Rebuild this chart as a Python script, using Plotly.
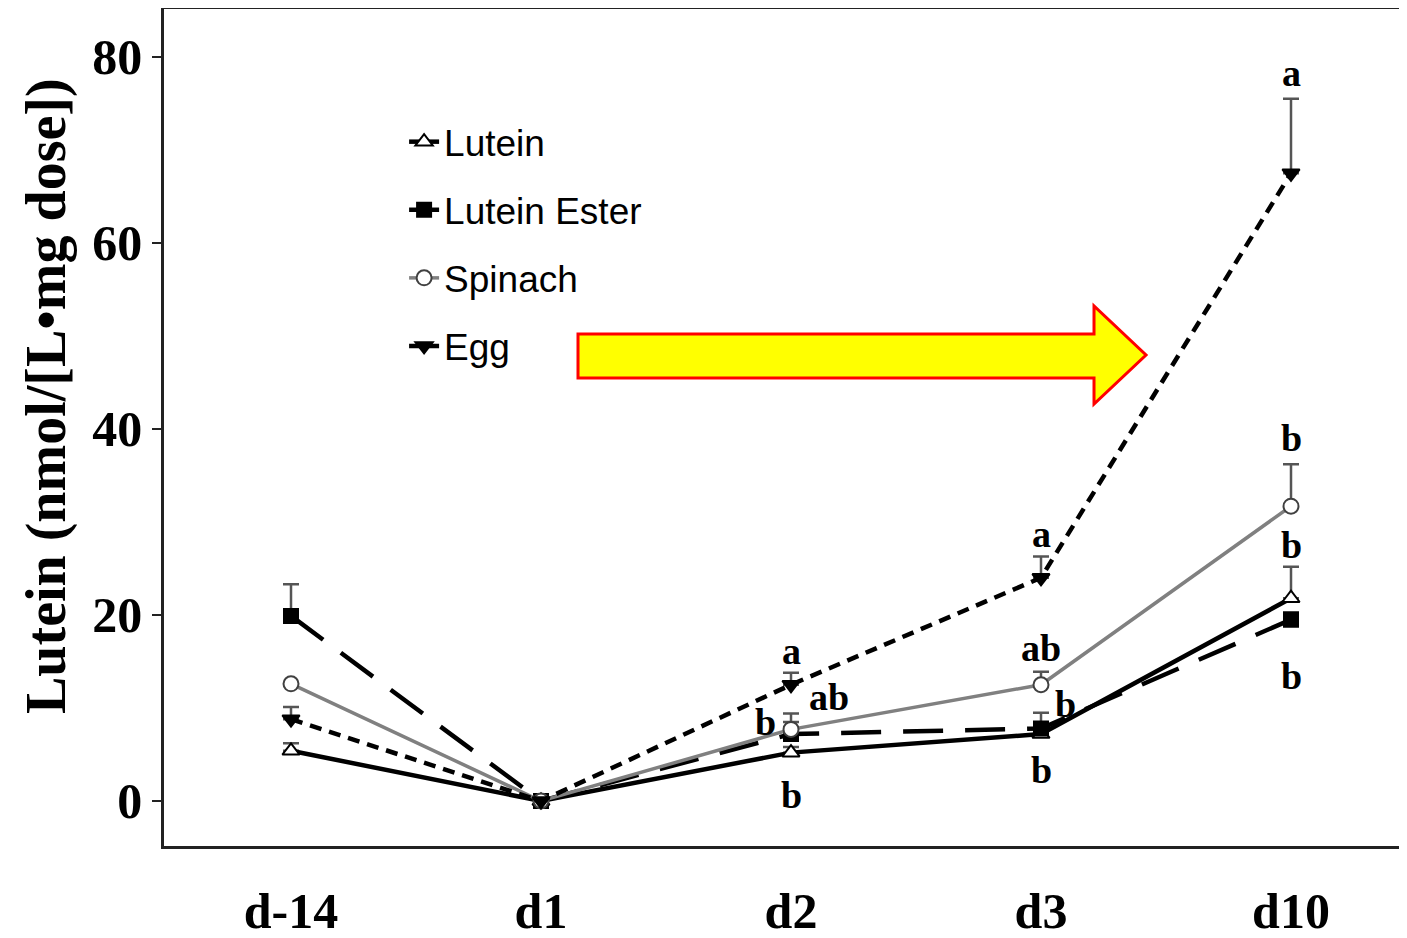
import plotly.graph_objects as go

days = ["d-14", "d1", "d2", "d3", "d10"]

lutein = [5.4, 0.0, 5.2, 7.2, 21.8]
lutein_err = [0.8, 0.0, 0.6, 0.6, 3.4]
ester = [19.9, 0.0, 7.2, 7.8, 19.5]
ester_err = [3.4, 0.0, 2.2, 1.7, 0.8]
spinach = [12.6, 0.0, 7.7, 12.5, 31.7]
spinach_err = [0.0, 0.0, 0.8, 1.4, 4.5]
egg = [8.8, 0.0, 12.5, 24.0, 67.5]
egg_err = [1.3, 0.0, 1.3, 2.3, 8.0]

SERIF = "Liberation Serif, Times New Roman, serif"
SANS = "Liberation Sans, Arial, sans-serif"

fig = go.Figure()

def add(name, y, err, color, dash, width, symbol, msize, mfill, mline, group):
    fig.add_trace(go.Scatter(
        x=days, y=y, name=name, mode="lines+markers",
        legendgroup=group,
        line=dict(color=color, dash=dash, width=width),
        marker=dict(symbol=symbol, size=msize, color=mfill,
                    line=dict(color=mline, width=2)),
        error_y=dict(type="data", array=err, arrayminus=[0] * len(err),
                     symmetric=False, color="#555555", thickness=2.5, width=8),
    ))

add("Lutein", lutein, lutein_err, "black", "solid", 4.5, "triangle-up", 15, "white", "black", "g1")
add("Lutein Ester", ester, ester_err, "black", "40px,22px", 4.5, "square", 14, "black", "black", "g2")
add("Spinach", spinach, spinach_err, "#808080", "solid", 3.5, "circle", 15, "white", "#404040", "g3")
add("Egg", egg, egg_err, "black", "12px,8px", 4.5, "triangle-down", 15, "black", "black", "g4")

# significance letters
letters = [
    ("d2", egg[2] + egg_err[2], "a", 0, 22),
    ("d2", spinach[2], "ab", 38, 32),
    ("d2", ester[2], "b", -26, 12),
    ("d2", lutein[2], "b", 0, -42),
    ("d3", egg[3] + egg_err[3], "a", 0, 22),
    ("d3", spinach[3] + spinach_err[3], "ab", 0, 24),
    ("d3", ester[3], "b", 24, 24),
    ("d3", lutein[3], "b", 0, -36),
    ("d10", egg[4] + egg_err[4], "a", 0, 26),
    ("d10", spinach[4] + spinach_err[4], "b", 0, 26),
    ("d10", lutein[4] + lutein_err[4], "b", 0, 22),
    ("d10", ester[4], "b", 0, -56),
]
for x, y, t, dx, dy in letters:
    fig.add_annotation(x=x, y=y, text=t, showarrow=False, xshift=dx, yshift=dy,
                       font=dict(family=SERIF, size=38, color="black", weight="bold"))

# plot-area relative helpers (reference pixel frame: plot spans x 163..1407, y 8..845)
def px(X):
    return (X - 163) / 1244

def py(Y):
    return (845 - Y) / 837

# y-axis title
fig.add_annotation(x=px(45), y=py(395), xref="paper", yref="paper",
                   xanchor="center", yanchor="middle",
                   text="Lutein (nmol/[L•mg dose])", textangle=-90, showarrow=False,
                   font=dict(family=SERIF, size=56, color="black", weight="bold"))

# yellow arrow
pts = [(577, 333), (1093, 333), (1093, 305), (1145, 354), (1093, 403), (1093, 377), (577, 377)]
path = "M " + " L ".join(f"{px(a):.4f},{py(b):.4f}" for a, b in pts) + " Z"
fig.add_shape(type="path", path=path, xref="paper", yref="paper",
              fillcolor="#FFFF00", line=dict(color="#FF0000", width=3), layer="above")

fig.update_layout(
    width=1407, height=938,
    margin=dict(l=156, r=7, t=1, b=100, autoexpand=False),
    paper_bgcolor="white", plot_bgcolor="white",
    showlegend=True,
    legend=dict(x=0.193, y=0.878, xanchor="left", yanchor="top",
                font=dict(family=SANS, size=37, color="black"),
                bgcolor="rgba(0,0,0,0)", tracegroupgap=17, traceorder="grouped",
                itemwidth=30),
    xaxis=dict(type="category", range=[-0.508, 4.468], showgrid=False, zeroline=False,
               automargin=False,
               showline=True, linecolor="#222222", linewidth=3, mirror=True,
               ticks="", tickfont=dict(family=SERIF, size=50, color="black", weight="bold"),
               ticklabelstandoff=19),
    yaxis=dict(range=[-4.84, 85.16], showgrid=False, zeroline=False,
               automargin=False,
               showline=True, linecolor="#222222", linewidth=2.5, mirror=False,
               ticks="outside", ticklen=9, tickwidth=2, tickcolor="#222222",
               tickvals=[0, 20, 40, 60, 80],
               tickfont=dict(family=SERIF, size=50, color="black", weight="bold")),
)

fig.write_html("out.html")
